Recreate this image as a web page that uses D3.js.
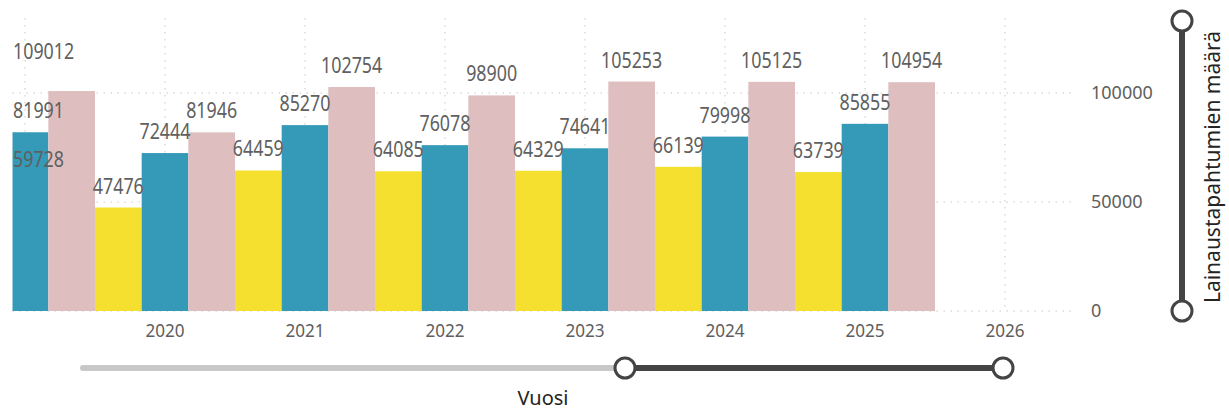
<!DOCTYPE html>
<html>
<head>
<meta charset="utf-8">
<script src="https://cdn.jsdelivr.net/npm/d3@7"></script>
<style>
  body { margin: 0; background: #fff; }
  svg { display: block; font-family: "Noto Sans", "Open Sans", sans-serif; }
</style>
</head>
<body>
<script>
 /* Lainaustapahtumien määrä per vuosi */

 // data (2018 only has the clipped pink label showing)
 var years  = [2018, 2019, 2020, 2021, 2022, 2023, 2024, 2025];
 var yellow = [null, 59728, 47476, 64459, 64085, 64329, 66139, 63739];
 var blue   = [null, 81991, 72444, 85270, 76078, 74641, 79998, 85855];
 var pink   = [109012, 100900, 81946, 102754, 98900, 105253, 105125, 104954];
 var yTicks = [0, 50000, 100000];
 var xTicks = [2020, 2021, 2022, 2023, 2024, 2025, 2026];

 var colors = ["#F5E02F", "#3599B8", "#DFBEBF"];
 var series = [yellow, blue, pink];

 var width = 1229, height = 411;
 var plot = {left: 12.5, right: 1075, top: 18, bottom: 311};

 var svg = d3.select("body").append("svg")
   .attr("width", width)
   .attr("height", height);

 // scales
 var x = d3.scaleLinear().domain([2020, 2026]).range([165, 1005]);
 var y = d3.scaleLinear().domain([0, 100000]).range([311, 93]);
 var bw = (x(2021) - x(2020)) / 3;

 svg.append("clipPath").attr("id", "plotclip")
   .append("rect")
   .attr("x", plot.left).attr("y", 0)
   .attr("width", plot.right - plot.left).attr("height", plot.bottom);

 // gridlines
 var grid = svg.append("g");
 grid.selectAll("line.h").data(yTicks).join("line")
   .attr("x1", plot.left).attr("x2", plot.right)
   .attr("y1", d => y(d)).attr("y2", d => y(d))
   .attr("stroke", "#c8c8c8").attr("stroke-dasharray", "1.5,5.5");
 grid.selectAll("line.v").data([2019].concat(xTicks)).join("line")
   .attr("x1", d => x(d)).attr("x2", d => x(d))
   .attr("y1", plot.top).attr("y2", plot.bottom)
   .attr("stroke", "#c8c8c8").attr("stroke-dasharray", "1.5,5.5");

 // bars
 var bars = [];
 years.forEach(function(yr, i){
   series.forEach(function(s, k){
     if (s[i] == null) return;
     bars.push({year: yr, k: k, value: s[i], cx: x(yr) + (k - 1) * bw});
   });
 });

 svg.append("g").attr("clip-path", "url(#plotclip)")
   .selectAll("rect").data(bars).join("rect")
   .attr("x", d => d.cx - bw / 2)
   .attr("width", bw)
   .attr("y", d => y(d.value))
   .attr("height", d => y(0) - y(d.value))
   .attr("fill", d => colors[d.k]);

 // data labels, kept inside the plot and hidden on collision
 var placed = [];
 var lab = svg.append("g");
 var sx = 0.85;
 bars.forEach(function(d){
   var base = y(d.value) - 14;
   var t = lab.append("text")
     .attr("font-size", 21)
     .attr("fill", "#606060")
     .text(d.value);
   var w = t.node().getComputedTextLength() * sx;
   var left = Math.max(13, d.cx - w / 2);
   var box = {x0: left, x1: left + w, y0: base - 15, y1: base};
   var hit = placed.some(function(b){
     return box.x0 < b.x1 && b.x0 < box.x1 && box.y0 < b.y1 + 4 && b.y0 < box.y1 + 4;
   });
   if (hit) { t.remove(); return; }
   placed.push(box);
   t.attr("transform", "translate(" + left + "," + base + ") scale(" + sx + ",1)");
 });

 // x axis labels
 svg.append("g").selectAll("text").data(xTicks).join("text")
   .attr("transform", d => "translate(" + x(d) + ",337) scale(0.9,1)")
   .attr("text-anchor", "middle")
   .attr("font-size", 19)
   .attr("fill", "#605E5C")
   .text(d => d);

 // y axis labels (right)
 svg.append("g").selectAll("text").data(yTicks).join("text")
   .attr("x", 1091)
   .attr("y", d => y(d) + 6)
   .attr("font-size", 18)
   .attr("fill", "#605E5C")
   .text(d => d);

 // y title
 svg.append("text")
   .attr("transform", "translate(1220,167) rotate(-90)")
   .attr("text-anchor", "middle")
   .attr("font-size", 21)
   .attr("fill", "#252423")
   .text("Lainaustapahtumien määrä");

 // x title
 svg.append("text")
   .attr("x", 543).attr("y", 405)
   .attr("text-anchor", "middle")
   .attr("font-size", 20)
   .attr("fill", "#252423")
   .text("Vuosi");

 // zoom sliders
 var dark = "#444444";
 svg.append("line")
   .attr("x1", 1182).attr("x2", 1182).attr("y1", 21).attr("y2", 311)
   .attr("stroke", dark).attr("stroke-width", 6);
 svg.append("line")
   .attr("x1", 83).attr("x2", 625).attr("y1", 368).attr("y2", 368)
   .attr("stroke", "#c8c8c8").attr("stroke-width", 6).attr("stroke-linecap", "round");
 svg.append("line")
   .attr("x1", 625).attr("x2", 1003).attr("y1", 368).attr("y2", 368)
   .attr("stroke", dark).attr("stroke-width", 6);
 svg.selectAll("circle.knob").data([[1182, 21], [1182, 311], [625, 368], [1003, 368]]).join("circle")
   .attr("cx", d => d[0]).attr("cy", d => d[1]).attr("r", 10)
   .attr("fill", "#fff").attr("stroke", dark).attr("stroke-width", 3);
</script>
</body>
</html>
